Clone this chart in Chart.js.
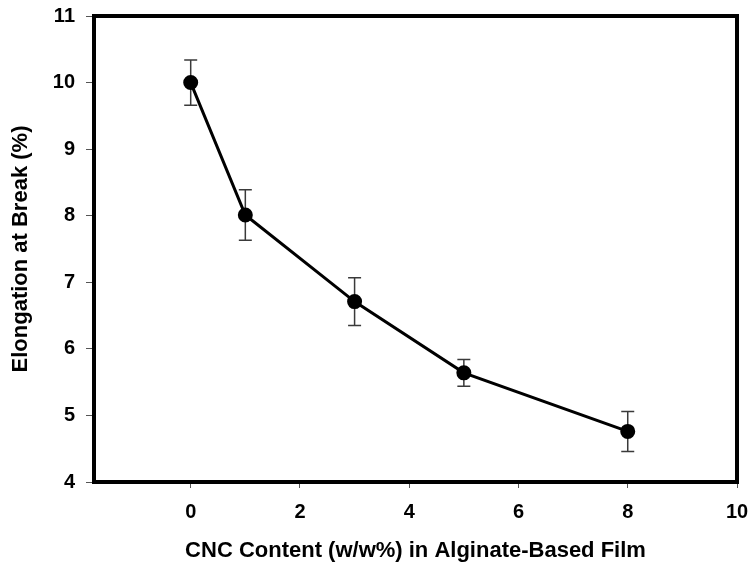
<!DOCTYPE html>
<html>
<head>
<meta charset="utf-8">
<title>Elongation at Break vs CNC Content</title>
<script src="https://cdn.jsdelivr.net/npm/chart.js@4.4.1/dist/chart.umd.min.js"></script>
<style>
  html, body { margin: 0; padding: 0; background: #ffffff; }
  #wrap { width: 751px; height: 571px; }
</style>
</head>
<body>
<div id="wrap"><canvas id="chart" width="751" height="571"></canvas></div>
<script>
// CNC content of the film (w/w%) and measured elongation at break (%)
const cncContent = [0, 1, 3, 5, 8];
const elongation = [10.0, 8.01, 6.71, 5.64, 4.76];
// standard deviation of each measurement
const elongationSd = [0.34, 0.38, 0.36, 0.2, 0.3];

const xTickValues = [0, 2, 4, 6, 8, 10];
const yTickValues = [4, 5, 6, 7, 8, 9, 10, 11];

const FONT = '"Liberation Sans", Arial, Helvetica, sans-serif';

const points = cncContent.map((x, i) => ({ x: x, y: elongation[i], sd: elongationSd[i] }));

// vertical error bars with end caps, drawn under the line and markers
const errorBars = {
  id: 'errorBars',
  beforeDatasetsDraw(chart) {
    const { ctx, scales: { x, y } } = chart;
    ctx.save();
    ctx.strokeStyle = '#3a3a3a';
    ctx.lineWidth = 1.5;
    const cap = 6.5;
    chart.data.datasets[0].data.forEach(p => {
      const px = x.getPixelForValue(p.x);
      const top = y.getPixelForValue(p.y + p.sd);
      const bot = y.getPixelForValue(p.y - p.sd);
      ctx.beginPath();
      ctx.moveTo(px, top); ctx.lineTo(px, bot);
      ctx.moveTo(px - cap, top); ctx.lineTo(px + cap, top);
      ctx.moveTo(px - cap, bot); ctx.lineTo(px + cap, bot);
      ctx.stroke();
    });
    ctx.restore();
  }
};

// heavy frame around the plotting area
const plotFrame = {
  id: 'plotFrame',
  afterDatasetsDraw(chart) {
    const { ctx, chartArea: a } = chart;
    ctx.save();
    ctx.strokeStyle = '#000000';
    ctx.lineWidth = 4;
    ctx.strokeRect(a.left, a.top, a.right - a.left, a.bottom - a.top);
    ctx.restore();
  }
};

// fixed axis sizes; label overhang is absorbed by the layout padding
function fixSize(prop, value) {
  return s => {
    s[prop] = value;
    s.paddingLeft = s.paddingRight = s.paddingTop = s.paddingBottom = 0;
  };
}

new Chart(document.getElementById('chart'), {
  type: 'scatter',
  data: {
    datasets: [{
      data: points,
      showLine: true,
      borderColor: '#000000',
      borderWidth: 3,
      backgroundColor: '#000000',
      pointRadius: 6,
      pointHoverRadius: 6,
      pointBackgroundColor: '#000000',
      pointBorderColor: '#000000',
      tension: 0
    }]
  },
  options: {
    responsive: false,
    animation: false,
    devicePixelRatio: 1,
    layout: { padding: { top: 16, right: 14, left: 0, bottom: 0 } },
    plugins: {
      legend: { display: false },
      tooltip: { enabled: false }
    },
    scales: {
      x: {
        type: 'linear',
        min: -1.77,
        max: 10,
        afterBuildTicks: s => { s.ticks = xTickValues.map(v => ({ value: v })); },
        afterFit: fixSize('height', 89),
        border: { display: false },
        grid: { drawOnChartArea: false, drawTicks: true, tickLength: 6, color: '#555555', lineWidth: 1 },
        ticks: {
          color: '#000000',
          padding: 12,
          maxRotation: 0,
          font: { family: FONT, size: 20, weight: 'bold' }
        },
        title: {
          display: true,
          text: 'CNC Content (w/w%) in Alginate-Based Film',
          color: '#000000',
          padding: { top: 0, bottom: 7 },
          font: { family: FONT, size: 22, weight: 'bold' }
        }
      },
      y: {
        type: 'linear',
        min: 4,
        max: 11,
        afterBuildTicks: s => { s.ticks = yTickValues.map(v => ({ value: v })); },
        afterFit: fixSize('width', 94),
        border: { display: false },
        grid: { drawOnChartArea: false, drawTicks: true, tickLength: 8, color: '#555555', lineWidth: 1 },
        ticks: {
          color: '#000000',
          padding: 11,
          font: { family: FONT, size: 20, weight: 'bold' }
        },
        title: {
          display: true,
          text: 'Elongation at Break (%)',
          color: '#000000',
          padding: { top: 8, bottom: 0 },
          font: { family: FONT, size: 22, weight: 'bold' }
        }
      }
    }
  },
  plugins: [errorBars, plotFrame]
});
</script>
</body>
</html>
